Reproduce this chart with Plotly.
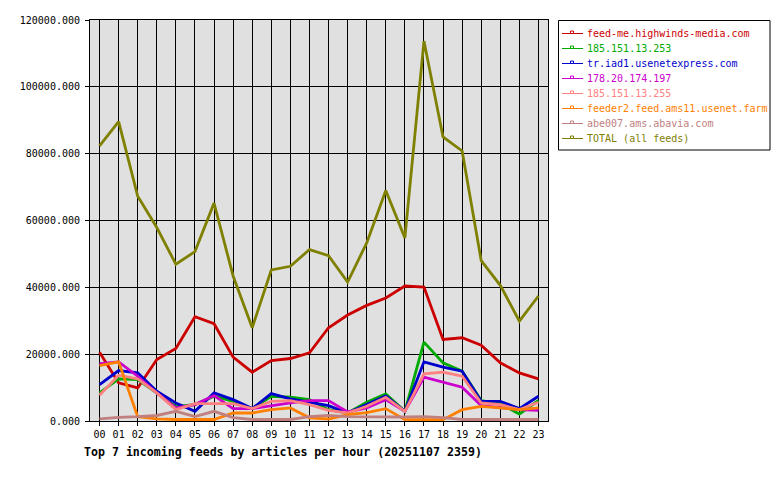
import plotly.graph_objects as go

hours = [f"{h:02d}" for h in range(24)]

feed_names = [
    "feed-me.highwinds-media.com",
    "185.151.13.253",
    "tr.iad1.usenetexpress.com",
    "178.20.174.197",
    "185.151.13.255",
    "feeder2.feed.ams11.usenet.farm",
    "abe007.ams.abavia.com",
    "TOTAL (all feeds)",
]
feed_colors = ["#CC0000", "#00AA00", "#0000CC", "#CC00CC", "#FF8080", "#FF8000", "#C08080", "#808000"]

highwinds = [20600, 11400, 9900, 18400, 21700, 31200, 29100, 19100, 14600, 18100, 18700, 20400,
             27900, 31700, 34600, 36800, 40400, 40100, 24400, 24900, 22700, 17400, 14400, 12600]
ip_253 = [8400, 12600, 12400, 8400, 4400, 4900, 7400, 5900, 3700, 7400, 7100, 6400,
          3400, 2400, 5600, 8100, 2900, 23600, 17400, 14900, 6100, 5200, 2100, 6200]
usenetexpress = [10900, 15100, 14400, 8900, 5400, 2900, 8400, 6400, 3700, 8200, 6600, 5600,
                 4600, 2400, 4900, 7500, 2900, 17700, 16100, 14900, 5900, 5900, 3700, 7400]
ip_197 = [17200, 17700, 13400, 8400, 3900, 4900, 7600, 3700, 3700, 4600, 5400, 6100,
          6100, 2700, 3900, 6400, 2900, 13100, 11700, 10100, 4600, 3900, 3400, 3200]
ip_255 = [7700, 13700, 12600, 8400, 3400, 5200, 5200, 5200, 3700, 5900, 6100, 4900,
          3200, 2400, 4400, 7100, 2900, 14100, 14600, 13400, 5400, 4900, 3400, 5600]
usenetfarm = [16600, 17700, 1300, 650, 450, 450, 450, 2400, 2400, 3400, 3900, 950,
              600, 1900, 2500, 3700, 400, 400, 400, 3400, 4400, 3900, 3400, 3900]
abavia = [650, 1100, 1300, 1650, 2900, 1300, 2900, 1000, 450, 450, 450, 1300,
          1700, 1300, 1200, 1200, 1200, 1300, 1000, 450, 450, 450, 450, 450]
total = [82300, 89600, 67300, 57900, 46900, 50700, 65200, 43400, 27900, 45200, 46300, 51300,
         49500, 41600, 53300, 69000, 54800, 113700, 85000, 80800, 48000, 40600, 29900, 37400]

series = [highwinds, ip_253, usenetexpress, ip_197, ip_255, usenetfarm, abavia, total]

FONT = "DejaVu Sans Mono"
W, H = 780, 480
L, R, T, B = 90, 548, 20, 421


def px(x):
    return (x - L) / (R - L)


def py(y):
    return (B - y) / (B - T)


fig = go.Figure()
for name, color, vals in zip(feed_names, feed_colors, series):
    fig.add_trace(go.Scatter(x=hours, y=vals, name=name, mode="lines",
                             line=dict(color=color, width=2.8), showlegend=False))

shapes = []
annotations = []
# legend box
shapes.append(dict(type="rect", xref="paper", yref="paper", x0=px(558.5), x1=px(770), y0=py(150), y1=py(20.5),
                   line=dict(color="black", width=1), fillcolor="white", layer="above"))
for i, (name, color) in enumerate(zip(feed_names, feed_colors)):
    yc = 33.5 + 15 * i
    shapes.append(dict(type="line", xref="paper", yref="paper", x0=px(562), x1=px(583), y0=py(yc), y1=py(yc),
                       line=dict(color=color, width=1), layer="above"))
    shapes.append(dict(type="rect", xref="paper", yref="paper", x0=px(570.5), x1=px(573.5), y0=py(yc), y1=py(yc - 2.5),
                       line=dict(color=color, width=1), fillcolor="white", layer="above"))
    annotations.append(dict(text=name, xref="paper", yref="paper", x=px(585), y=py(yc), xanchor="left",
                            yanchor="middle", showarrow=False, font=dict(family=FONT, size=10, color=color)))

annotations.append(dict(text="<b>Top 7 incoming feeds by articles per hour (20251107 2359)</b>",
                        xref="paper", yref="paper", x=px(82), y=py(452), xanchor="left", yanchor="middle",
                        showarrow=False, font=dict(family=FONT, size=11.6, color="black")))

fig.update_layout(
    width=W, height=H,
    margin=dict(l=L, r=W - R, t=T, b=H - B, pad=0),
    paper_bgcolor="white", plot_bgcolor="#E0E0E0",
    font=dict(family=FONT, size=10, color="black"),
    showlegend=False,
    shapes=shapes, annotations=annotations,
    xaxis=dict(type="category", range=[-0.5, 23.5], showgrid=True, gridcolor="black", gridwidth=1,
               showline=True, linecolor="black", linewidth=1, mirror=True, ticks="outside", ticklen=4,
               tickcolor="black", tickfont=dict(family=FONT, size=10), zeroline=False, fixedrange=True),
    yaxis=dict(range=[0, 120000], dtick=20000, tickformat=".3f", showgrid=True, gridcolor="black", gridwidth=1,
               showline=True, linecolor="black", linewidth=1, mirror=True, ticks="outside", ticklen=4,
               tickcolor="black", tickfont=dict(family=FONT, size=10), zeroline=False, fixedrange=True,
               ticklabelstandoff=3),
)

fig.write_html("out.html")
